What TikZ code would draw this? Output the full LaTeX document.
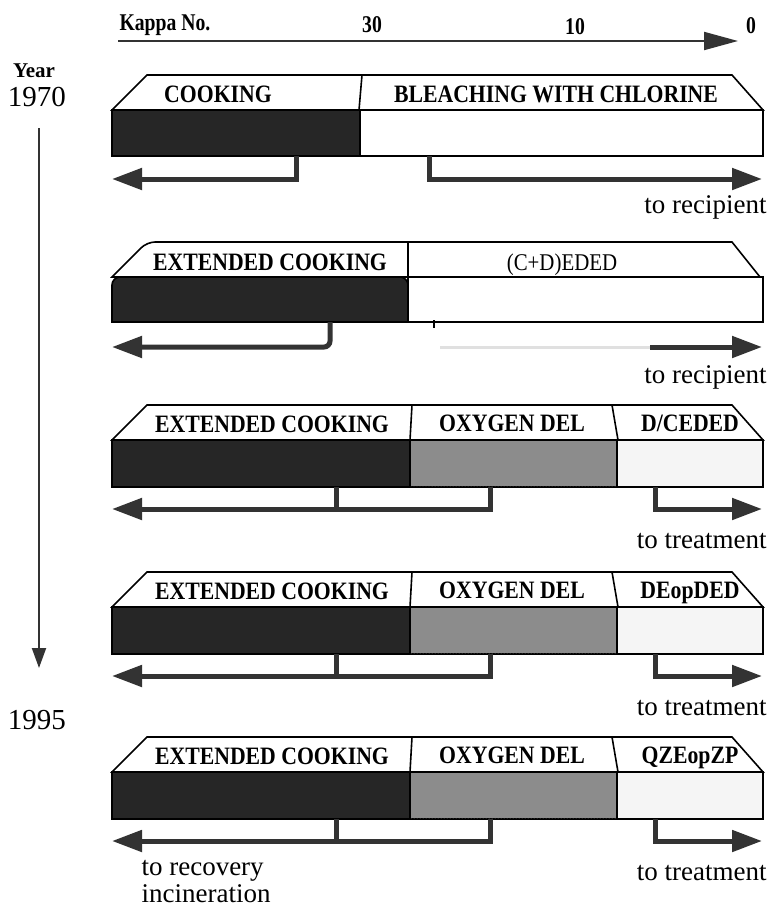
\documentclass[tikz,border=0pt]{standalone}
\usepackage{fontspec}
\setmainfont{Liberation Serif}
\newfontfamily\narrowserif[FakeStretch=0.87]{Liberation Serif}
\newfontfamily\kappaserif[FakeStretch=0.82]{Liberation Serif}
\usetikzlibrary{arrows.meta,patterns}

\definecolor{darkblock}{HTML}{262626}
\definecolor{greyblock}{HTML}{8C8C8C}
\definecolor{lightblock}{HTML}{F5F5F5}
\definecolor{flowline}{HTML}{333333}

\tikzset{
  outline/.style={line width=1.6pt},
  stagetext/.style={font=\narrowserif\bfseries\fontsize{25}{27}\selectfont, anchor=base},
  axistext/.style={font=\kappaserif\bfseries\fontsize{24}{26}\selectfont, anchor=base},
  sidetext/.style={font=\fontsize{27}{30}\selectfont},
  flow/.style={line width=5pt, color=flowline, line cap=butt,
    -{Triangle[length=30pt,width=21pt]}},
  flowstub/.style={line width=5pt, color=flowline}
}

\begin{document}
\begin{tikzpicture}[x=1pt, y=-1pt]
  \useasboundingbox (0,0) rectangle (772,918);

  % kappa axis
  \node[axistext, anchor=base west] (kappa) at (116,30) {Kappa No.};
  \node[axistext] (k30) at (372,32) {30};
  \node[axistext] (k10) at (575,34) {10};
  \node[axistext] (k0) at (751,33) {0};
  \coordinate (kstart) at (118,41);
  \coordinate (kend) at (738,41);
  \draw[line width=2pt, color=flowline, -{Triangle[length=34pt,width=18pt]}] (kstart) -- (kend);

  % year axis
  \node[axistext, font=\bfseries\fontsize{21}{23}\selectfont] (year) at (34,77) {Year};
  \node[font=\fontsize{29}{30}\selectfont] (y1970) at (37,97) {1970};
  \node[font=\fontsize{29}{30}\selectfont] (y1995) at (37,720) {1995};
  \draw[line width=2pt, color=flowline, -{Triangle[length=20pt,width=14pt]}] (39,128) -- (39,668);

  % 1970: cooking + chlorine bleaching
  \draw[outline, fill=white] (112,110) -- (147,75) -- (732,75) -- (763,110) -- cycle;
  \draw[outline] (362,75) -- (359,110);
  \draw[outline, fill=darkblock] (112,110) rectangle (360,156);
  \draw[outline, fill=white] (360,110) rectangle (763,156);
  \node[stagetext] (cook1) at (218,102) {COOKING};
  \node[stagetext] (bleach1) at (556,102) {BLEACHING WITH CHLORINE};
  \draw[flow] (296,156) -- (296,179) -- (112,179);
  \draw[flow] (429,156) -- (429,179) -- (762,179);
  \node[sidetext, anchor=east] (rec1) at (770,207) {to recipient};

  % extended cooking + (C+D)EDED
  \draw[outline, fill=white, rounded corners=8pt] (112,277) -- (147,242) [sharp corners] -- (732,242) -- (760,277) -- cycle;
  \draw[outline] (408,242) -- (408,277);
  \draw[outline, fill=darkblock, rounded corners=8pt] (112,322) -- (112,277) -- (408,277) [sharp corners] -- (408,322) -- cycle;
  \draw[outline, fill=white] (408,277) rectangle (763,322);
  \node[stagetext] (cook2) at (270,270) {EXTENDED COOKING};
  \node[font=\narrowserif\fontsize{24}{26}\selectfont, anchor=base] (bleach2) at (562,270) {(C+D)EDED};
  \draw[flow, rounded corners=6pt] (330,322) -- (330,347) -- (112,347);
  \draw[line width=2pt] (434,320) -- (434,328);
  \draw[line width=3pt, color=black!12] (440,347) -- (650,347);
  \draw[flow] (650,347) -- (762,347);
  \node[sidetext, anchor=east] (rec2) at (770,377) {to recipient};

  % extended cooking + oxygen delignification + bleaching
  \foreach \t/\seq [count=\i] in {405/{D/CEDED}, 572/{DEopDED}, 737/{QZEopZP}}{
    \draw[outline, fill=white] (112,\t+35) -- (147,\t) -- (732,\t) -- (763,\t+35) -- cycle;
    \draw[outline] (412,\t) -- (410,\t+35);
    \draw[outline] (612,\t) -- (618,\t+35);
    \draw[outline, fill=darkblock] (112,\t+35) rectangle (410,\t+82);
    \draw[outline, fill=greyblock] (410,\t+35) rectangle (617,\t+82);
    \fill[pattern=crosshatch dots, pattern color=black!45] (411,\t+36) rectangle (616,\t+81);
    \draw[outline, fill=lightblock] (617,\t+35) rectangle (763,\t+82);
    \node[stagetext] (cook\i) at (272,\t+27) {EXTENDED COOKING};
    \node[stagetext] (oxy\i) at (512,\t+26) {OXYGEN DEL};
    \node[stagetext] (seq\i) at (690,\t+26) {\seq};
    \draw[flow] (490,\t+82) -- (490,\t+104) -- (112,\t+104);
    \draw[flowstub] (336,\t+82) -- (336,\t+106);
    \draw[flow] (655,\t+82) -- (655,\t+104) -- (762,\t+104);
    \node[sidetext, anchor=east] (treat\i) at (770,\t+136) {to treatment};
  }
  \node[sidetext, anchor=north west, align=left] (recovery) at (138,857) {to recovery\\[-3pt]incineration};
\end{tikzpicture}
\end{document}
